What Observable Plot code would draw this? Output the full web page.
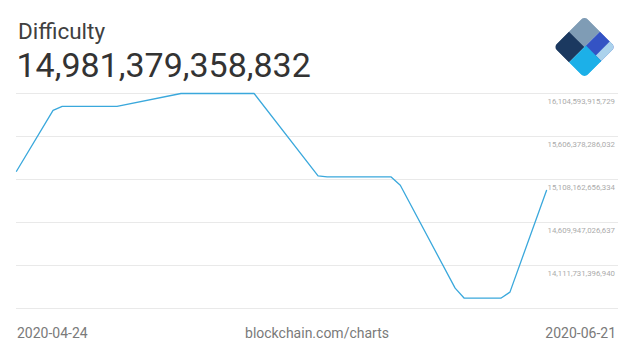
<!DOCTYPE html>
<html>
<head>
<meta charset="utf-8">
<script src="https://cdn.jsdelivr.net/npm/d3@7"></script>
<script src="https://cdn.jsdelivr.net/npm/@observablehq/plot@0.6"></script>
<style>
  html, body { margin: 0; padding: 0; background: #fff; }
  #wrap { position: relative; width: 630px; height: 363px; overflow: hidden; font-family: Roboto, "Noto Sans", sans-serif; }
  .abs { position: absolute; white-space: nowrap; line-height: 1; }
  #chart { position: absolute; left: 0; top: 0; }
</style>
</head>
<body>
<div id="wrap">
  <div id="chart"></div>
  <div class="abs" id="title" style="left:18px; top:20px; font-size:22.5px; color:#404040;">Difficulty</div>
  <div class="abs" id="value" style="left:16.5px; top:47.5px; font-size:34px; color:#333;"></div>
  <svg class="abs" style="left:548px; top:12px;" width="74" height="74" viewBox="0 0 74 74">
    <defs>
      <clipPath id="clip"><rect x="0" y="0" width="44" height="44" rx="5" ry="5"></rect></clipPath>
    </defs>
    <g transform="translate(36.5,35) rotate(45) translate(-22,-22)" clip-path="url(#clip)">
      <rect x="0" y="0" width="22" height="22" fill="#7f9cb5"></rect>
      <rect x="0" y="22" width="22" height="22" fill="#1b3960"></rect>
      <rect x="22" y="0" width="22" height="22" fill="#3453c4"></rect>
      <rect x="36" y="0" width="8" height="20" fill="#abd2ec"></rect>
      <rect x="22" y="20" width="22" height="24" fill="#1cb0e8"></rect>
    </g>
  </svg>
  <div class="abs" id="dstart" style="left:17px; top:325.5px; font-size:14px; color:#7a7a7a;"></div>
  <div class="abs" id="source" style="left:0; width:634px; text-align:center; top:325.5px; font-size:14px; color:#7a7a7a;">blockchain.com/charts</div>
  <div class="abs" id="dend" style="right:14px; top:325.5px; font-size:14px; color:#7a7a7a;"></div>
</div>
<script>
// Data (7-day average difficulty)
const dates = ["2020-04-24","2020-04-28","2020-04-29","2020-05-05","2020-05-12","2020-05-20",
               "2020-05-27","2020-05-28","2020-06-04","2020-06-05","2020-06-11","2020-06-12",
               "2020-06-16","2020-06-17","2020-06-21"];
const difficulty = [15204000000000, 15909000000000, 15956000000000, 15956000000000, 16104593915729, 16104593915729,
                    15150000000000, 15138000000000, 15138000000000, 15042000000000, 13849000000000, 13733000000000,
                    13733000000000, 13803000000000, 14981379358832];
const tickValues = [16104593915729, 15606378286032, 15108162656334, 14609947026637, 14111731396940];
const gridValues = [16104593915729, 15606378286032, 15108162656334, 14609947026637, 14111731396940, 13613515767243];
const currentValue = 14981379358832;

const data = dates.map((d, i) => ({date: new Date(d + "T00:00:00Z"), value: difficulty[i]}));
const fmt = d3.format(",d");

document.getElementById("value").textContent = fmt(currentValue);
document.getElementById("dstart").textContent = dates[0];
document.getElementById("dend").textContent = dates[dates.length - 1];

const chart = Plot.plot({
  width: 630,
  height: 363,
  marginTop: 93,
  marginBottom: 55,
  marginLeft: 16,
  marginRight: 84,
  style: {background: "transparent", fontFamily: "Roboto, sans-serif", overflow: "visible"},
  x: {type: "utc", domain: [data[0].date, data[data.length - 1].date], axis: null},
  y: {domain: [d3.min(gridValues), d3.max(gridValues)], axis: null, label: null},
  marks: [
    Plot.ruleY(gridValues, {stroke: "#e9e9e9", strokeWidth: 1, insetRight: -72}),
    Plot.line(data, {x: "date", y: "value", stroke: "#3aa8dc", strokeWidth: 1.3}),
    Plot.axisY(tickValues, {anchor: "right", tickSize: 0, tickPadding: 1, tickFormat: fmt,
      fill: "#ababab", fontSize: 7.8, dy: 8, label: null})
  ]
});
document.getElementById("chart").appendChild(chart);
</script>
</body>
</html>
